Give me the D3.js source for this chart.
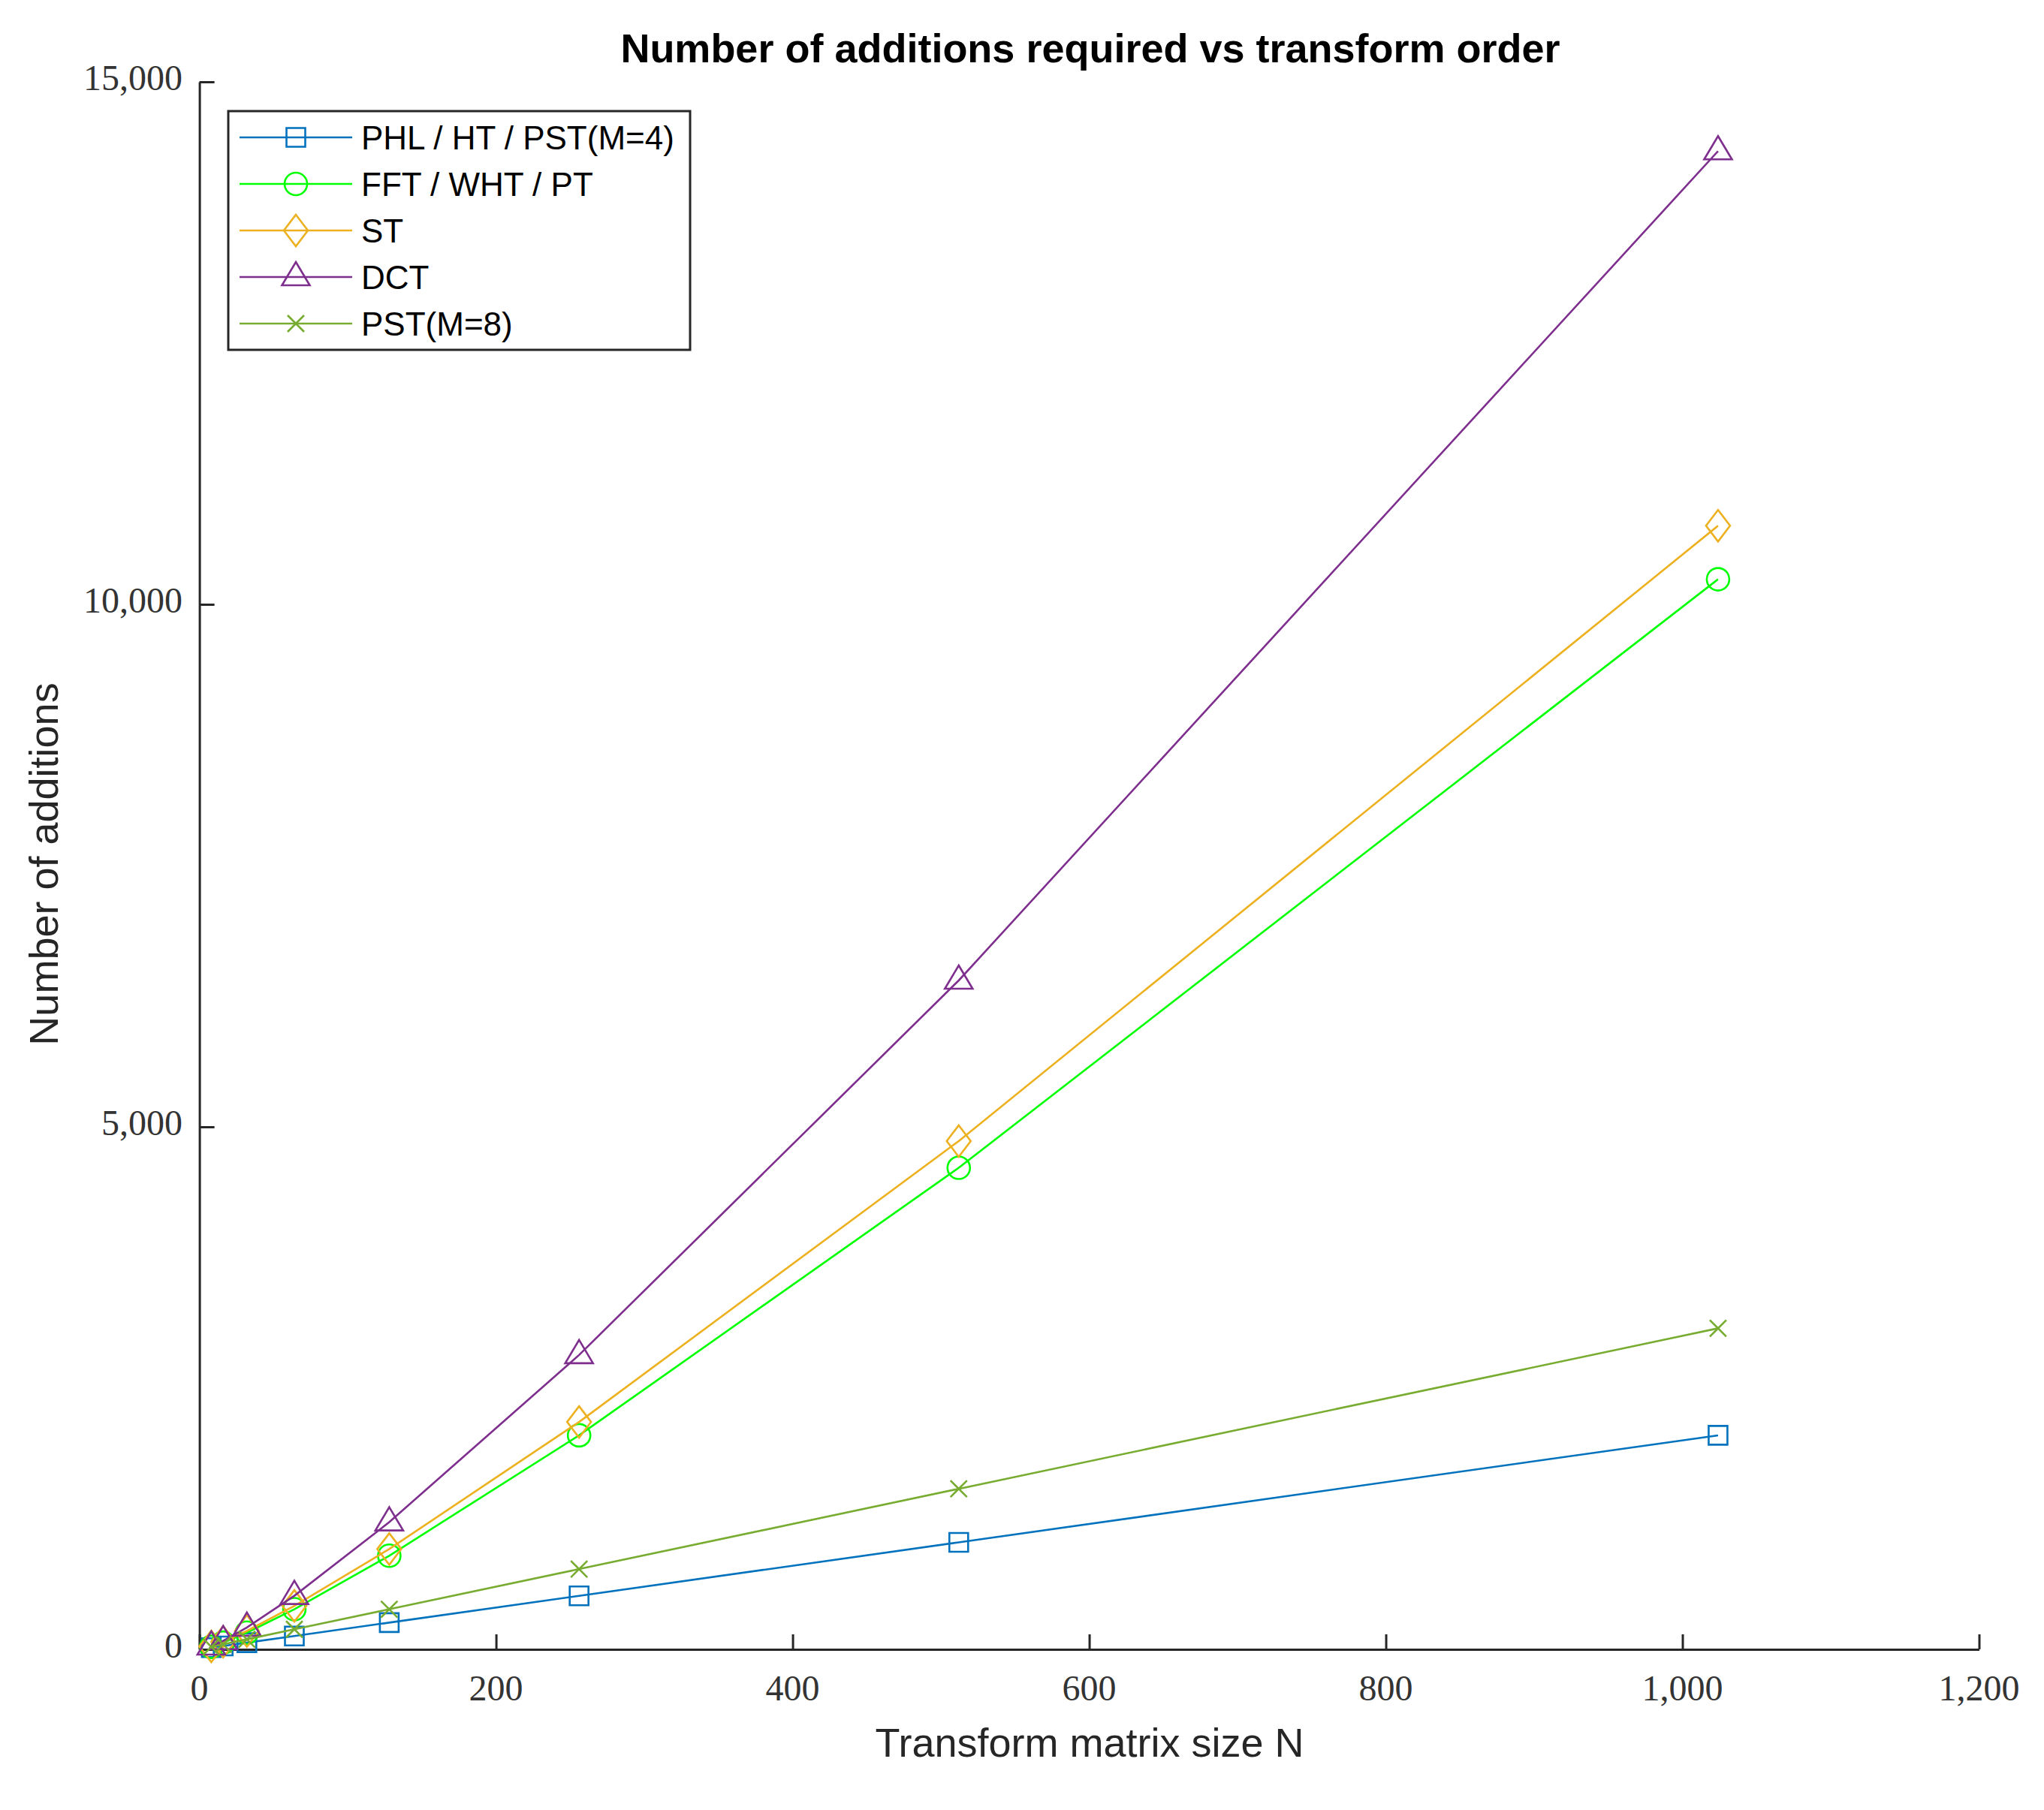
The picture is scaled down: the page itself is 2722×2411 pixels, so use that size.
<!DOCTYPE html>
<html>
<head>
<meta charset="utf-8">
<script src="https://d3js.org/d3.v7.min.js"></script>
<style>
  html, body { margin: 0; padding: 0; background: #fff; }
</style>
</head>
<body>
<div id="chart"></div>
<script>

// data
var sizes = [8, 16, 32, 64, 128, 256, 512, 1024]
var phlValues = [16, 32, 64, 128, 256, 512, 1024, 2048]
var fftValues = [24, 64, 160, 384, 896, 2048, 4608, 10240]
var stValues = [28, 72, 176, 416, 960, 2176, 4864, 10752]
var dctValues = [29, 81, 209, 513, 1217, 2817, 6401, 14337]
var pst8Values = [24, 48, 96, 192, 384, 768, 1536, 3072]
var seriesNames = ["PHL / HT / PST(M=4)", "FFT / WHT / PT", "ST", "DCT", "PST(M=8)"]
var xTicks = [0, 200, 400, 600, 800, 1000, 1200]
var yTicks = [0, 5000, 10000, 15000]

var colors = ["#0072BD", "#00FF00", "#EDB120", "#7E2F8E", "#77AC30"]
var markers = ["square", "circle", "diamond", "triangle", "x"]
var allValues = [phlValues, fftValues, stValues, dctValues, pst8Values]

var W = 2722, H = 2411
var plot = {left: 265.6, right: 2635.5, top: 109, bottom: 2197}

var svg = d3.select("#chart")
  .append("svg")
    .attr("width", W)
    .attr("height", H)

var x = d3.scaleLinear()
  .domain([0, 1200])
  .range([plot.left, plot.right])

var y = d3.scaleLinear()
  .domain([0, 15000])
  .range([plot.bottom, plot.top])

var fmt = d3.format(",")
var axisColor = "#262626"

// X axis, ticks point inward
var xAxis = svg.append("g")
  .attr("transform", "translate(0," + plot.bottom + ")")
  .call(d3.axisTop(x).tickValues(xTicks).tickSize(20).tickSizeOuter(0).tickFormat(""))
xAxis.select(".domain").attr("stroke", axisColor).attr("stroke-width", 3)
xAxis.selectAll(".tick line").attr("stroke", axisColor).attr("stroke-width", 3)

svg.append("g").selectAll("text")
  .data(xTicks)
  .enter()
  .append("text")
    .attr("x", function(d) { return x(d) })
    .attr("y", 2265)
    .attr("text-anchor", "middle")
    .style("font-family", "'Liberation Serif', 'DejaVu Serif', serif")
    .style("font-size", "48px")
    .style("fill", "#333")
    .text(function(d) { return fmt(d) })

// Y axis
var yAxis = svg.append("g")
  .attr("transform", "translate(" + plot.left + ",0)")
  .call(d3.axisRight(y).tickValues(yTicks).tickSize(20).tickSizeOuter(0).tickFormat(""))
yAxis.select(".domain").attr("stroke", axisColor).attr("stroke-width", 3)
yAxis.selectAll(".tick line").attr("stroke", axisColor).attr("stroke-width", 3)

svg.append("g").selectAll("text")
  .data(yTicks)
  .enter()
  .append("text")
    .attr("x", 243)
    .attr("y", function(d) { return y(d) + 11 })
    .attr("text-anchor", "end")
    .style("font-family", "'Liberation Serif', 'DejaVu Serif', serif")
    .style("font-size", "48px")
    .style("fill", "#333")
    .text(function(d) { return fmt(d) })

// marker shapes drawn as paths around (0,0)
function markerPath(kind) {
  if (kind == "square") return "M-12.5,-12.5H12.5V12.5H-12.5Z"
  if (kind == "circle") return "M15,0A15,15 0 1,1 -15,0A15,15 0 1,1 15,0Z"
  if (kind == "diamond") return "M0,-21L16,0L0,21L-16,0Z"
  if (kind == "triangle") return "M0,-20L18.5,11L-18.5,11Z"
  return "M-11,-11L11,11M-11,11L11,-11"
}

var line = d3.line()
  .x(function(d) { return x(d.n) })
  .y(function(d) { return y(d.v) })

allValues.forEach(function(vals, i) {
  var data = sizes.map(function(n, j) { return {n: n, v: vals[j]} })
  var g = svg.append("g")
  g.append("path")
    .datum(data)
    .attr("d", line)
    .attr("fill", "none")
    .attr("stroke", colors[i])
    .attr("stroke-width", 2.6)
  g.selectAll("path.mk")
    .data(data)
    .enter()
    .append("path")
      .attr("class", "mk")
      .attr("transform", function(d) { return "translate(" + x(d.n) + "," + y(d.v) + ")" })
      .attr("d", markerPath(markers[i]))
      .attr("fill", "none")
      .attr("stroke", colors[i])
      .attr("stroke-width", 2.6)
})

// legend
var legend = svg.append("g")
legend.append("rect")
  .attr("x", 304)
  .attr("y", 148)
  .attr("width", 615)
  .attr("height", 318)
  .attr("fill", "#fff")
  .attr("stroke", axisColor)
  .attr("stroke-width", 3)

seriesNames.forEach(function(name, i) {
  var cy = 183 + i * 62
  legend.append("line")
    .attr("x1", 319).attr("x2", 469)
    .attr("y1", cy).attr("y2", cy)
    .attr("stroke", colors[i])
    .attr("stroke-width", 2.6)
  legend.append("path")
    .attr("transform", "translate(394," + cy + ")")
    .attr("d", markerPath(markers[i]))
    .attr("fill", "none")
    .attr("stroke", colors[i])
    .attr("stroke-width", 2.6)
  legend.append("text")
    .attr("x", 481)
    .attr("y", cy + 16)
    .style("font-family", "'Liberation Sans', Arial, sans-serif")
    .style("font-size", "44px")
    .style("fill", "#000")
    .text(name)
})

// title and axis labels
svg.append("text")
  .attr("x", 1452)
  .attr("y", 83)
  .attr("text-anchor", "middle")
  .style("font-family", "'Liberation Sans', Arial, sans-serif")
  .style("font-size", "54px")
  .style("font-weight", "bold")
  .style("fill", "#000")
  .text("Number of additions required vs transform order")

svg.append("text")
  .attr("x", 1451)
  .attr("y", 2340)
  .attr("text-anchor", "middle")
  .style("font-family", "'Liberation Sans', Arial, sans-serif")
  .style("font-size", "54px")
  .style("fill", axisColor)
  .text("Transform matrix size N")

svg.append("text")
  .attr("transform", "translate(77,1151) rotate(-90)")
  .attr("text-anchor", "middle")
  .style("font-family", "'Liberation Sans', Arial, sans-serif")
  .style("font-size", "54px")
  .style("fill", axisColor)
  .text("Number of additions")

</script>
</body>
</html>
